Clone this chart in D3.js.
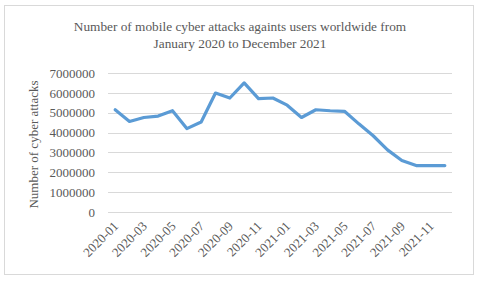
<!DOCTYPE html>
<html>
<head>
<meta charset="utf-8">
<script src="https://cdn.jsdelivr.net/npm/d3@7/dist/d3.min.js"></script>
<style>
  html, body { margin: 0; padding: 0; background: #fff; }
  svg text { font-family: "Liberation Serif", "Times New Roman", serif; fill: #595959; }
</style>
</head>
<body>
<div id="chart"></div>
<script>
const months = [
  "2020-01", "2020-02", "2020-03", "2020-04", "2020-05", "2020-06",
  "2020-07", "2020-08", "2020-09", "2020-10", "2020-11", "2020-12",
  "2021-01", "2021-02", "2021-03", "2021-04", "2021-05", "2021-06",
  "2021-07", "2021-08", "2021-09", "2021-10", "2021-11", "2021-12"
];
const attacks = [
  5150000, 4560000, 4760000, 4830000, 5100000, 4200000,
  4530000, 5990000, 5740000, 6500000, 5710000, 5740000,
  5380000, 4760000, 5150000, 5100000, 5070000, 4440000,
  3840000, 3130000, 2590000, 2340000, 2340000, 2340000
];
const yTicks = [0, 1000000, 2000000, 3000000, 4000000, 5000000, 6000000, 7000000];
const titleLines = [
  "Number of mobile cyber attacks againts users worldwide from",
  "January 2020 to December 2021"
];
const yTitle = "Number of cyber attacks";

const W = 480, H = 281;
const plot = { left: 108, right: 452, top: 73, bottom: 212 };

const svg = d3.select("#chart").append("svg")
  .attr("width", W).attr("height", H);

// chart area border
svg.append("rect")
  .attr("x", 4.5).attr("y", 5.5)
  .attr("width", 469).attr("height", 269)
  .attr("fill", "#fff")
  .attr("stroke", "#d9d9d9");

// title
svg.append("g").selectAll("text").data(titleLines).join("text")
  .attr("x", 240)
  .attr("y", (d, i) => 31 + i * 17)
  .attr("text-anchor", "middle")
  .style("font-size", "13.3px")
  .text(d => d);

const x = d3.scaleBand().domain(months).range([plot.left, plot.right]);
const y = d3.scaleLinear().domain([0, 7000000]).range([plot.bottom, plot.top]);

// gridlines
svg.append("g").selectAll("line").data(yTicks).join("line")
  .attr("x1", plot.left).attr("x2", plot.right)
  .attr("y1", d => Math.round(y(d)) + 0.5).attr("y2", d => Math.round(y(d)) + 0.5)
  .attr("stroke", "#d9d9d9").attr("stroke-width", 1);

// y axis labels
const yAxis = svg.append("g")
  .attr("transform", `translate(${plot.left},0)`)
  .call(d3.axisLeft(y).tickValues(yTicks).tickFormat(d3.format("d")).tickSize(0).tickPadding(13));
yAxis.select(".domain").remove();
yAxis.selectAll("text")
  .style("font-size", "13px")
  .style("font-family", "'Liberation Serif', 'Times New Roman', serif")
  .attr("fill", "#595959");

// y axis title
svg.append("text")
  .attr("transform", `translate(38,${(plot.top + plot.bottom) / 2 + 2}) rotate(-90)`)
  .attr("text-anchor", "middle")
  .style("font-size", "13px")
  .text(yTitle);

// x axis labels
const xLabels = months.filter((d, i) => i % 2 === 0);
const xAxis = svg.append("g")
  .attr("transform", `translate(0,${plot.bottom})`)
  .call(d3.axisBottom(x).tickValues(xLabels).tickSize(0).tickPadding(0));
xAxis.select(".domain").remove();
xAxis.selectAll("text")
  .style("font-size", "13px")
  .style("font-family", "'Liberation Serif', 'Times New Roman', serif")
  .attr("fill", "#595959")
  .attr("text-anchor", "end")
  .attr("dy", null)
  .attr("transform", "translate(4,15) rotate(-45)")
  .attr("y", 0).attr("x", 0);

// series line
const line = d3.line()
  .x((d, i) => x(months[i]) + x.bandwidth() / 2)
  .y(d => y(d));

svg.append("path")
  .datum(attacks)
  .attr("d", line)
  .attr("fill", "none")
  .attr("stroke", "#5b9bd5")
  .attr("stroke-width", 3.2)
  .attr("stroke-linejoin", "round")
  .attr("stroke-linecap", "round");
</script>
</body>
</html>
